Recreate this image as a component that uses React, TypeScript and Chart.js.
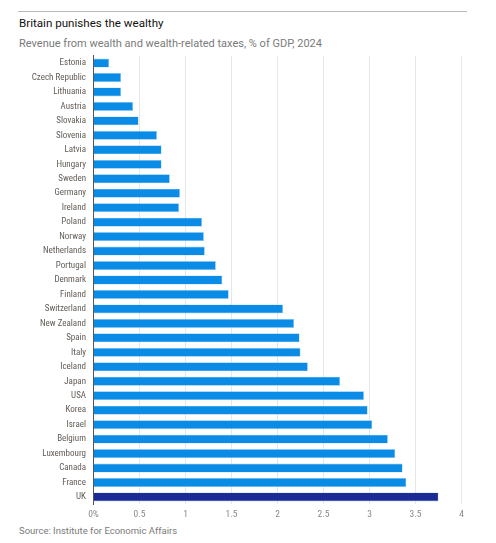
import React, { useEffect, useRef } from "react";
import { Chart, registerables } from "chart.js";

Chart.register(...registerables);

const countries = [
  "Estonia", "Czech Republic", "Lithuania", "Austria", "Slovakia", "Slovenia",
  "Latvia", "Hungary", "Sweden", "Germany", "Ireland", "Poland", "Norway",
  "Netherlands", "Portugal", "Denmark", "Finland", "Switzerland", "New Zealand",
  "Spain", "Italy", "Iceland", "Japan", "USA", "Korea", "Israel", "Belgium",
  "Luxembourg", "Canada", "France", "UK",
];

const revenue = [
  0.17, 0.3, 0.3, 0.43, 0.49, 0.69,
  0.74, 0.74, 0.83, 0.94, 0.93, 1.18, 1.2,
  1.21, 1.33, 1.4, 1.47, 2.06, 2.18,
  2.24, 2.25, 2.33, 2.68, 2.94, 2.98, 3.03, 3.2,
  3.28, 3.36, 3.4, 3.75,
];

const xTicks = [0, 0.5, 1, 1.5, 2, 2.5, 3, 3.5, 4];
const xTickLabels = ["0%", "0.5", "1", "1.5", "2", "2.5", "3", "3.5", "4"];

const highlight = "UK";
const BLUE = "#0a8ce6";
const NAVY = "#1c2a96";

const CANVAS_TOP = 48;
const CANVAS_W = 480;
const CANVAS_H = 477;
const COND = "'Roboto Condensed', 'Liberation Sans Narrow', sans-serif";

export default function App() {
  const ref = useRef<HTMLCanvasElement | null>(null);

  useEffect(() => {
    if (!ref.current) return;
    const colors = countries.map((c) => (c === highlight ? NAVY : BLUE));
    const chart = new Chart(ref.current, {
      type: "bar",
      data: {
        labels: countries,
        datasets: [
          {
            data: revenue,
            backgroundColor: colors,
            borderColor: "rgba(140,200,245,0.9)",
            borderWidth: 0.6,
            barPercentage: 0.62,
            categoryPercentage: 1,
          },
        ],
      },
      options: {
        indexAxis: "y",
        animation: false,
        responsive: false,
        maintainAspectRatio: false,
        layout: { padding: { top: 7.8, right: 18.5, left: 0, bottom: 0 } },
        plugins: {
          legend: { display: false },
          tooltip: { enabled: false },
          title: { display: false },
        },
        scales: {
          x: {
            type: "linear",
            min: 0,
            max: 4,
            afterBuildTicks: (scale: any) => {
              scale.ticks = xTicks.map((v) => ({ value: v }));
            },
            afterFit: (scale: any) => {
              scale.height = 20.8;
              scale.paddingLeft = 0;
              scale.paddingRight = 0;
            },
            ticks: {
              padding: 5,
              color: "#8a8a8a",
              font: { family: COND, size: 9.5 },
              callback: (_v: any, i: number) => xTickLabels[i],
            },
            grid: {
              color: "#e6e6e6",
              lineWidth: 1,
              drawTicks: false,
            },
            border: { display: false },
          },
          y: {
            type: "category",
            afterFit: (scale: any) => {
              scale.width = 93.5;
              scale.paddingTop = 0;
              scale.paddingBottom = 0;
            },
            ticks: {
              padding: 7.5,
              color: "#625c56",
              autoSkip: false,
              font: { family: COND, size: 9 },
            },
            grid: { display: false, drawTicks: false },
            border: { display: true, color: "#555", width: 1 },
          },
        },
      },
    });
    return () => chart.destroy();
  }, []);

  return (
    <div
      style={{
        position: "absolute",
        left: 0,
        top: 0,
        width: 496,
        height: 543,
        background: "#fff",
        fontFamily: "Roboto, 'Liberation Sans', sans-serif",
      }}
    >
      <div
        style={{
          position: "absolute",
          left: 18,
          top: 11,
          width: 449,
          height: 0,
          borderTop: "1.5px solid #b9b9b9",
        }}
      />
      <div
        style={{
          position: "absolute",
          left: 19,
          top: 16,
          fontSize: 11.6,
          color: "#111",
          whiteSpace: "nowrap",
        }}
      >
        Britain punishes the wealthy
      </div>
      <div
        style={{
          position: "absolute",
          left: 19,
          top: 37,
          fontSize: 11,
          color: "#7a7a7a",
          whiteSpace: "nowrap",
        }}
      >
        Revenue from wealth and wealth-related taxes, % of GDP, 2024
      </div>
      <canvas
        ref={ref}
        width={CANVAS_W}
        height={CANVAS_H}
        style={{ position: "absolute", left: 0, top: CANVAS_TOP, width: CANVAS_W, height: CANVAS_H }}
      />
      <div
        style={{
          position: "absolute",
          left: 19,
          top: 525,
          fontSize: 9.5,
          color: "#7a7a7a",
          whiteSpace: "nowrap",
        }}
      >
        Source: Institute for Economic Affairs
      </div>
    </div>
  );
}
